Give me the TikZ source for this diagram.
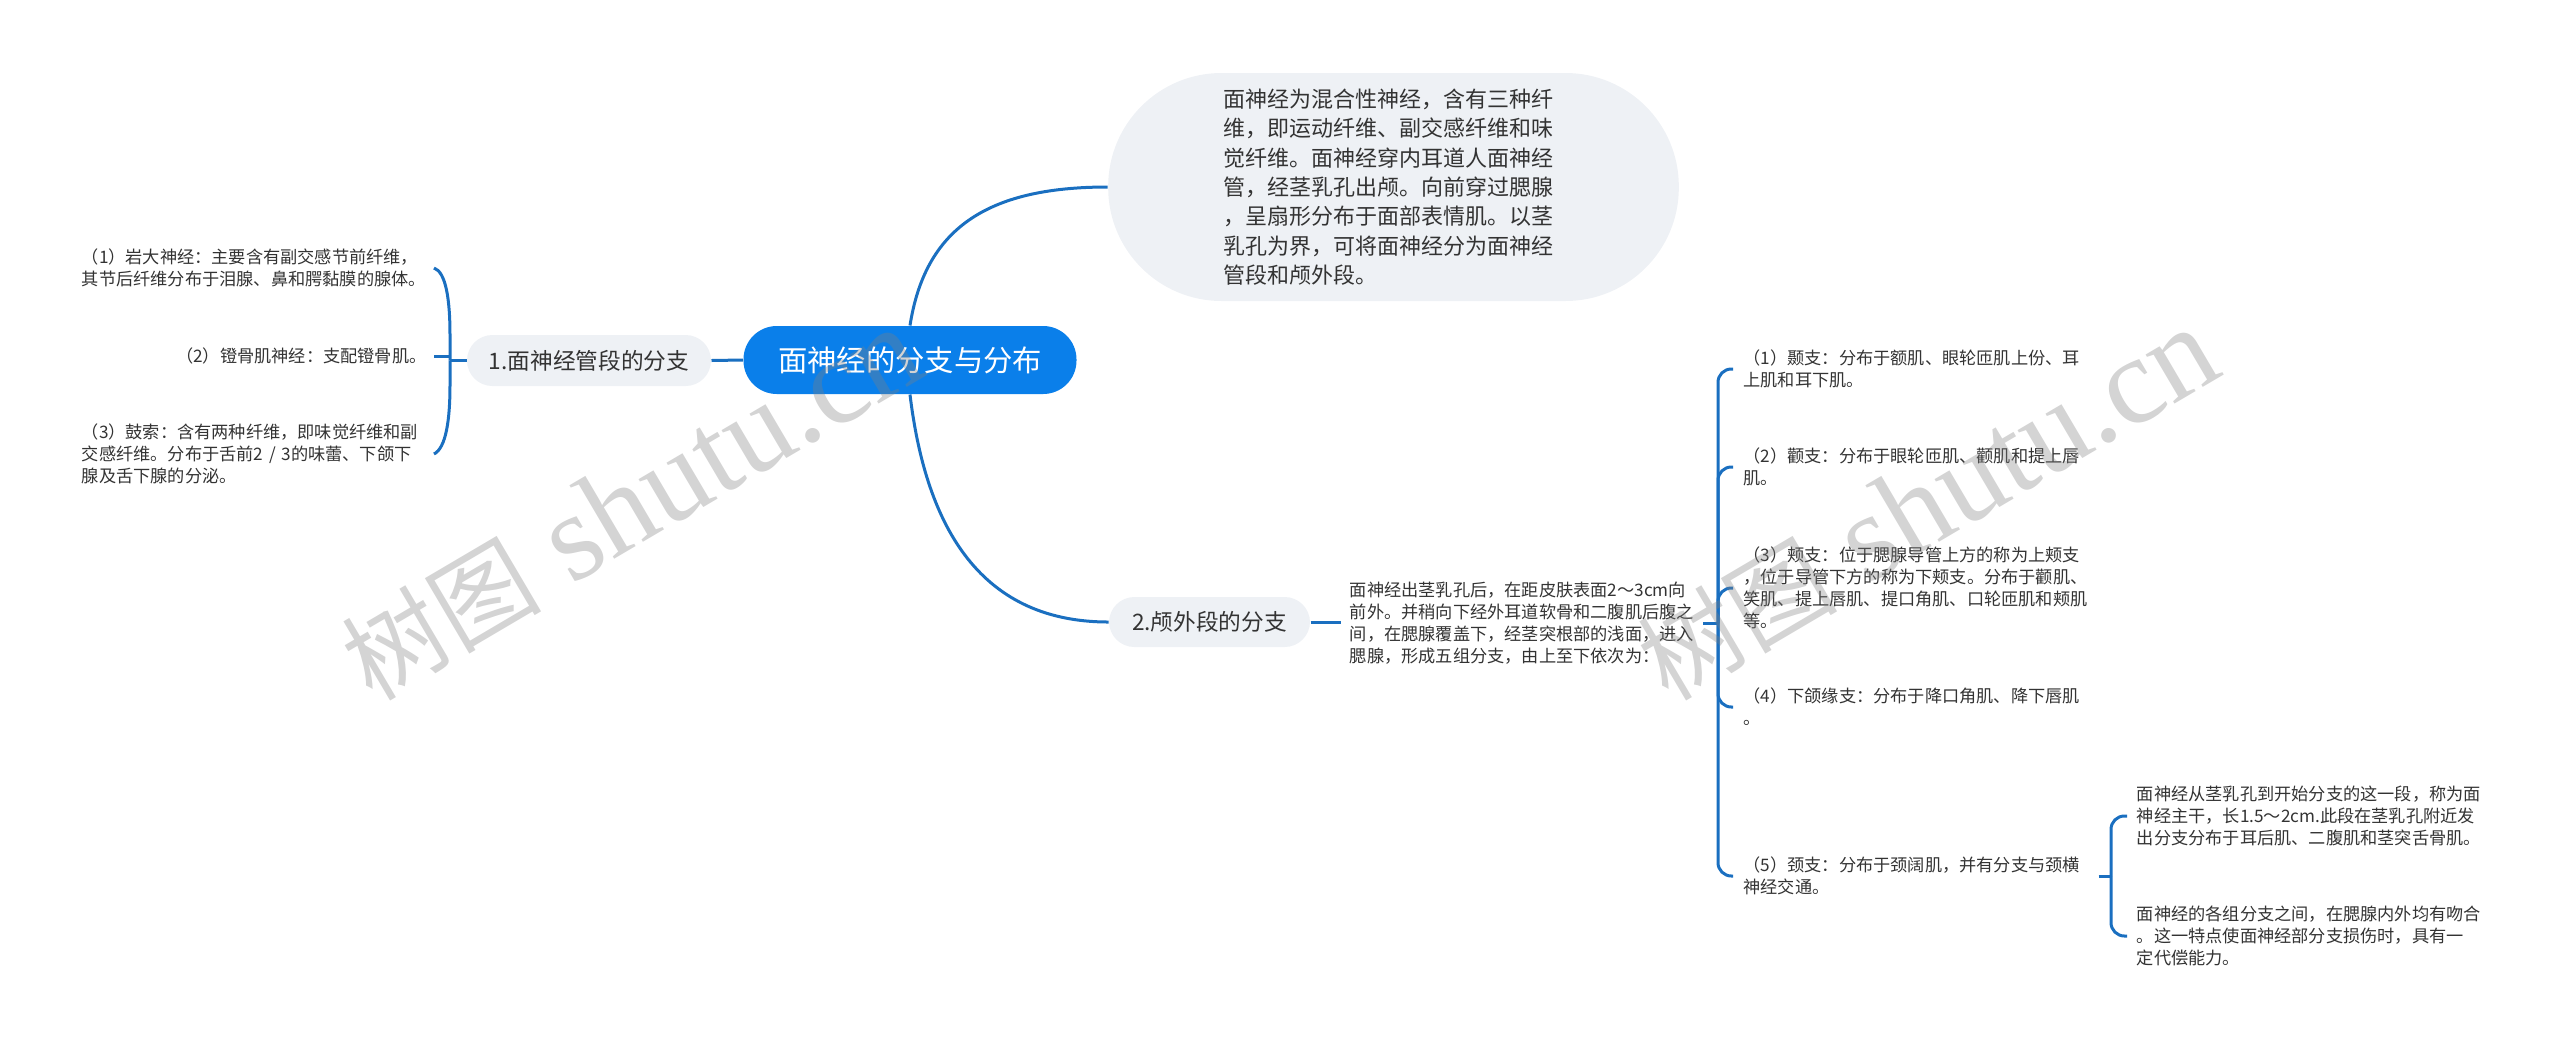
\documentclass[tikz,border=0pt]{standalone}
\usepackage{fontspec}
\setmainfont{Noto Sans CJK SC}
\newfontfamily\markfont{Liberation Serif}
\newfontfamily\markcjk{Noto Sans CJK SC}

\definecolor{linkblue}{HTML}{1A6FC0}
\definecolor{rootblue}{HTML}{0A7FEA}
\definecolor{sidegray}{HTML}{EEF1F5}
\definecolor{textgray}{HTML}{333333}

\tikzset{every picture/.style={line width=0.75pt}}
\tikzset{
  linkline/.style={draw=linkblue,line width=2.25pt},
  forkline/.style={linkline,rounded corners=10pt},
  rootnode/.style={fill=rootblue,text=white,rounded corners=25pt,minimum width=249.75pt,minimum height=51pt,inner sep=0pt,font=\fontsize{22}{26}\selectfont},
  sidenode/.style={fill=sidegray,text=textgray,rounded corners=19pt,inner sep=0pt,font=\fontsize{17}{21}\selectfont},
  leafnode/.style={text=textgray,inner ysep=0pt,align=left,font=\fontsize{12.9}{16.6}\selectfont},
  introtext/.style={fill=sidegray,text=textgray,rounded corners=85pt,minimum width=428pt,minimum height=171pt,inner sep=0pt,text width=255.75pt,align=left,font=\fontsize{16.5}{22}\selectfont},
  watermark/.style={text=gray,opacity=0.34,inner sep=0pt,rotate=30.5,anchor=south west}
}

\begin{document}
\begin{tikzpicture}[x=0.75pt,y=0.75pt,yscale=-1,xscale=1]
\useasboundingbox (0,0) rectangle (2560,1051);

% Root and side nodes
\node (root) [rootnode] at (910,360) {面神经的分支与分布};
\node (intro) [introtext] at (1393.5,187) {面神经为混合性神经，含有三种纤\\维，即运动纤维、副交感纤维和味\\觉纤维。面神经穿内耳道人面神经\\管，经茎乳孔出颅。向前穿过腮腺\\，呈扇形分布于面部表情肌。以茎\\乳孔为界，可将面神经分为面神经\\管段和颅外段。};
\node (sideone) [sidenode,minimum width=183pt,minimum height=38.25pt] at (589,360.5) {1.面神经管段的分支};
\node (sidetwo) [sidenode,minimum width=150.75pt,minimum height=37.5pt] at (1209.5,622) {2.颅外段的分支};

% Left leaves
\node (petrosal) [leafnode,anchor=east,inner xsep=5.25pt,text width=258.5pt] at (434,268) {（1）岩大神经：主要含有副交感节前纤维，\\其节后纤维分布于泪腺、鼻和腭黏膜的腺体。};
\node (stapedius) [leafnode,anchor=east,inner xsep=5.25pt] at (434,356) {（2）镫骨肌神经：支配镫骨肌。};
\node (chorda) [leafnode,anchor=east,inner xsep=5.25pt,text width=258.5pt] at (434,454) {（3）鼓索：含有两种纤维，即味觉纤维和副\\交感纤维。分布于舌前2 / 3的味蕾、下颌下\\腺及舌下腺的分泌。};

% Right leaves
\node (midtext) [leafnode,anchor=east,inner xsep=6pt,text width=258.5pt] at (1703,623) {面神经出茎乳孔后，在距皮肤表面2～3cm向\\前外。并稍向下经外耳道软骨和二腹肌后腹之\\间，在腮腺覆盖下，经茎突根部的浅面，进入\\腮腺，形成五组分支，由上至下依次为：};
\node (temporal) [leafnode,anchor=west,inner xsep=7.5pt,text width=258.5pt] at (1733,369) {（1）颞支：分布于额肌、眼轮匝肌上份、耳\\上肌和耳下肌。};
\node (zygomatic) [leafnode,anchor=west,inner xsep=7.5pt,text width=258.5pt] at (1733,467) {（2）颧支：分布于眼轮匝肌、颧肌和提上唇\\肌。};
\node (buccal) [leafnode,anchor=west,inner xsep=7.5pt,text width=258.5pt] at (1733,588) {（3）颊支：位于腮腺导管上方的称为上颊支\\，位于导管下方的称为下颊支。分布于颧肌、\\笑肌、提上唇肌、提口角肌、口轮匝肌和颊肌\\等。};
\node (mandibular) [leafnode,anchor=west,inner xsep=7.5pt,text width=258.5pt] at (1733,707) {（4）下颌缘支：分布于降口角肌、降下唇肌\\。};
\node (cervical) [leafnode,anchor=west,inner xsep=7.5pt,text width=258.5pt] at (1733,876) {（5）颈支：分布于颈阔肌，并有分支与颈横\\神经交通。};
\node (maintrunk) [leafnode,anchor=west,inner xsep=7pt,text width=258.5pt] at (2127,816) {面神经从茎乳孔到开始分支的这一段，称为面\\神经主干，长1.5～2cm.此段在茎乳孔附近发\\出分支分布于耳后肌、二腹肌和茎突舌骨肌。};
\node (anastomosis) [leafnode,anchor=west,inner xsep=7pt,text width=258.5pt] at (2127,936) {面神经的各组分支之间，在腮腺内外均有吻合\\。这一特点使面神经部分支损伤时，具有一\\定代偿能力。};

% Forks
\coordinate (forkleft) at (450,360.5);
\coordinate (forkmid) at (1718,623);
\coordinate (forkcervical) at (2111,876);

% Links
\draw [linkline] (root.north) .. controls (925,230) and (985,187) .. (intro.west);
\draw [linkline] (root.south) .. controls (925,519) and (975,622) .. (sidetwo.west);
\draw [linkline] (root.west) -- (sideone.east);
\draw [linkline] (sideone.west) -- (forkleft);
\draw [linkline] (petrosal.east) .. controls (446,272) and (450,300) .. (450,335) -- (forkleft);
\draw [linkline] (chorda.east) .. controls (446,448) and (450,420) .. (450,385) -- (forkleft);
\draw [linkline] (stapedius.east) -- (stapedius.east -| forkleft);
\draw [linkline] (sidetwo.east) -- (sidetwo.east -| midtext.west);
\draw [linkline] (midtext.east) -- (forkmid);
\draw [forkline] (forkmid) |- (temporal.west);
\draw [forkline] (forkmid) |- (zygomatic.west);
\draw [forkline] (forkmid) |- (buccal.west);
\draw [forkline] (forkmid) |- (mandibular.west);
\draw [forkline] (forkmid) |- (cervical.west);
\draw [linkline] (cervical.east) -- (forkcervical);
\draw [forkline] (forkcervical) |- (maintrunk.west);
\draw [forkline] (forkcervical) |- (anastomosis.west);

% Watermarks
\node (markleft) [watermark] at (376,710) {\fontsize{75}{80}\markcjk 树图\markfont\fontsize{93}{110}\selectfont\ shutu.cn};
\node (markright) [watermark] at (1672,710) {\fontsize{75}{80}\markcjk 树图\markfont\fontsize{93}{110}\selectfont\ shutu.cn};
\end{tikzpicture}
\end{document}
